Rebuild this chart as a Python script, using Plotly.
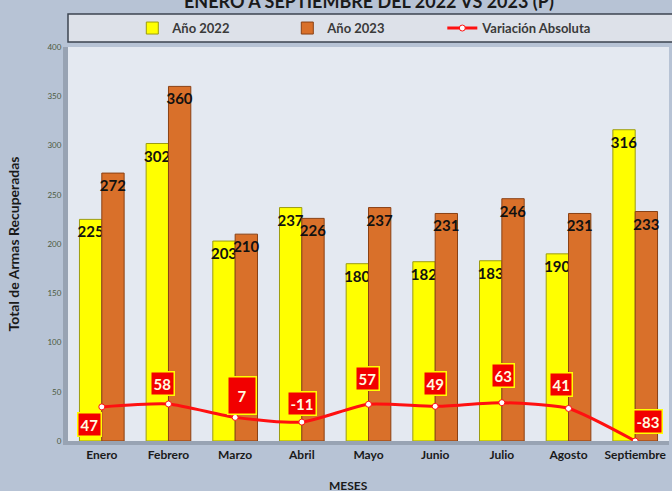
import plotly.graph_objects as go

meses = ["Enero", "Febrero", "Marzo", "Abril", "Mayo", "Junio", "Julio", "Agosto", "Septiembre"]
anio_2022 = [225, 302, 203, 237, 180, 182, 183, 190, 316]
anio_2023 = [272, 360, 210, 226, 237, 231, 246, 231, 233]
variacion = [47, 58, 7, -11, 57, 49, 63, 41, -83]

# label offsets (px) for variation boxes
var_xshift = [-12, -6, 7, 0, -1, 0, 1, -8, 13]
var_yshift = [-18, 20, 22, 19, 26, 23, 27, 24, 20]
var_pad = [2, 2, 9, 2, 2, 2, 2, 2, 2]

FONT = "Lato"

fig = go.Figure()
fig.add_trace(go.Bar(
    x=meses, y=anio_2022, name="Año 2022",
    marker=dict(color="#ffff00", line=dict(color="#9c9c10", width=1)),
    text=[str(v) for v in anio_2022], textposition="inside", insidetextanchor="end",
    constraintext="none", textangle=0,
    textfont=dict(family=FONT, size=15, color="#111111", weight="bold"),
))
fig.add_trace(go.Bar(
    x=meses, y=anio_2023, name="Año 2023",
    marker=dict(color="#d9702a", line=dict(color="#8a4114", width=1)),
    text=[str(v) for v in anio_2023], textposition="inside", insidetextanchor="end",
    constraintext="none", textangle=0,
    textfont=dict(family=FONT, size=15, color="#111111", weight="bold"),
))
fig.add_trace(go.Scatter(
    x=meses, y=variacion, name="Variación Absoluta", yaxis="y2",
    mode="lines+markers", line=dict(color="#ff1010", width=3, shape="spline", smoothing=0.6),
    marker=dict(color="white", size=6, line=dict(color="#ff1010", width=1)),
    cliponaxis=False,
))

for m, v, xs, ys, pad in zip(meses, variacion, var_xshift, var_yshift, var_pad):
    fig.add_annotation(
        x=m, y=v, xref="x", yref="y2", text="<b>%d</b>" % v, showarrow=False,
        xshift=xs, yshift=ys, bgcolor="#f20000", bordercolor="#ffff00", borderwidth=1.5,
        borderpad=pad, font=dict(family=FONT, size=15, color="#fffbe0"),
    )

# Legend background box
fig.add_shape(type="rect", xref="paper", yref="paper", x0=0, x1=1.01, y0=1.0127, y1=1.084,
              fillcolor="#dde1e9", line=dict(color="#3c4450", width=1.5), layer="below")

fig.add_annotation(text="<b>ENERO A SEPTIEMBRE DEL 2022 VS 2023 (P)</b>", xref="paper", yref="paper",
                   x=0.5, y=1.117, showarrow=False, yanchor="middle",
                   font=dict(family=FONT, size=18, color="#1a1a1a"))
fig.add_annotation(text="<b>MESES</b>", xref="paper", yref="paper", x=0.466, y=-0.114,
                   showarrow=False, yanchor="middle", font=dict(family=FONT, size=12, color="#1a1a1a"))

fig.update_layout(
    width=672, height=491,
    margin=dict(l=68, r=3, t=47, b=50, autoexpand=False),
    paper_bgcolor="#b7c3d5",
    plot_bgcolor="#e4e9f1",
    barmode="group", bargap=0.33, bargroupgap=0,
    showlegend=True,
    legend=dict(orientation="h", x=0.107, xanchor="left", y=1.048, yanchor="middle",
                bgcolor="rgba(0,0,0,0)", entrywidth=110, entrywidthmode="pixels",
                font=dict(family=FONT, size=13, color="#3a3a3a", weight="bold"), itemwidth=30,
                traceorder="normal"),
    xaxis=dict(showline=True, linecolor="#98a3b3", linewidth=4, ticks="", showgrid=False,
               tickfont=dict(family=FONT, size=12, color="#1a1a1a", weight="bold")),
    yaxis=dict(range=[0, 400], dtick=50, showgrid=False, zeroline=False, ticks="",
               showline=True, linecolor="#98a3b3", linewidth=5,
               tickfont=dict(family=FONT, size=8, color="#4d5a40"),
               title=dict(text="<b>Total de Armas Recuperadas</b>", standoff=26,
                          font=dict(family=FONT, size=14, color="#1a1a1a"))),
    yaxis2=dict(range=[-83, 1418], overlaying="y", side="right", visible=False, showgrid=False),
    font=dict(family=FONT),
)

fig.write_html("out.html", config={"displayModeBar": False},
               post_script="document.body.style.margin='0px';")
